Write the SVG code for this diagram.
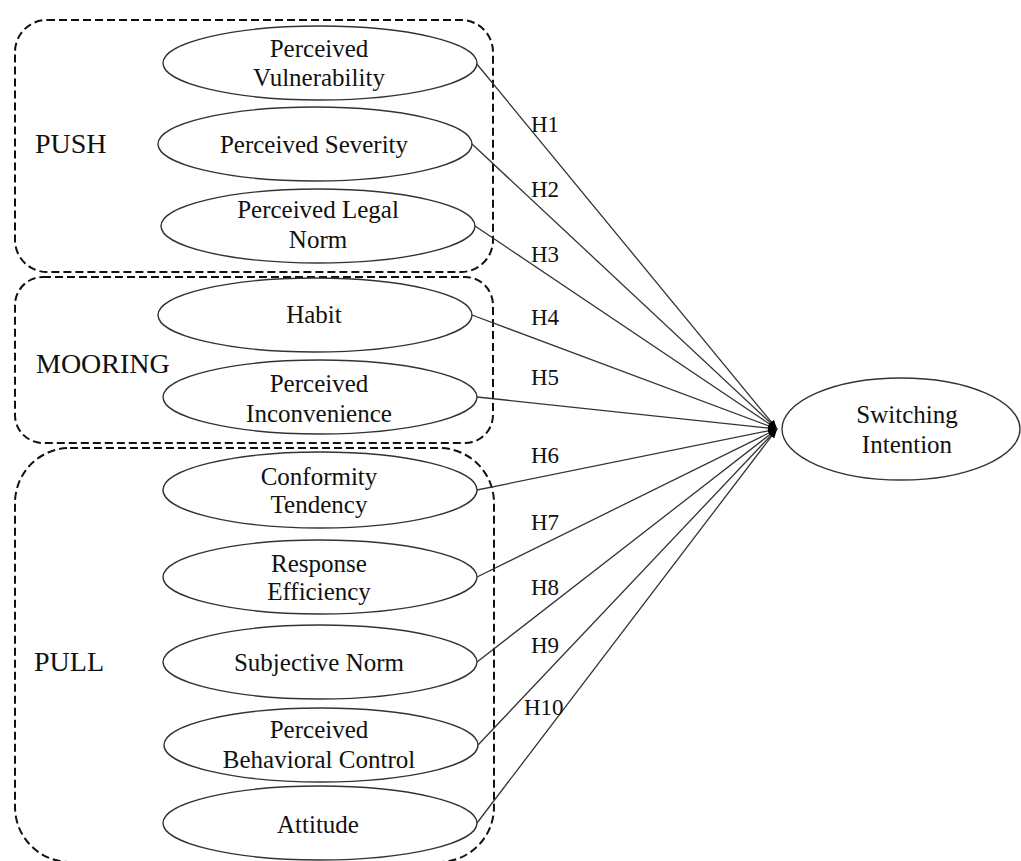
<svg xmlns="http://www.w3.org/2000/svg" width="1021" height="861" viewBox="0 0 1021 861">
<style>
.grp{fill:none;stroke:#111;stroke-width:2;stroke-dasharray:8 4}
.node{fill:#fff;stroke:#333;stroke-width:1.4}
.t{font-family:"Liberation Serif","Times New Roman",serif;font-size:25px;fill:#111;text-anchor:middle}
.g{font-family:"Liberation Serif","Times New Roman",serif;font-size:28px;fill:#111}
.h{font-family:"Liberation Serif","Times New Roman",serif;font-size:23px;fill:#111}
.e{fill:none;stroke:#333;stroke-width:1.3}
</style>
<defs>
<marker id="ah" markerUnits="userSpaceOnUse" markerWidth="10" markerHeight="8" refX="9" refY="3.5" orient="auto">
<path d="M0,0 L9,3.5 L0,7 z" fill="#000"/>
</marker>
</defs>
<g id="groups">
<rect id="push-box" class="grp" x="15" y="20" width="478" height="252" rx="32" ry="32"/>
<text class="g" x="35" y="153">PUSH</text>
<rect id="mooring-box" class="grp" x="15" y="277" width="478" height="166" rx="28" ry="28"/>
<text class="g" x="36" y="373">MOORING</text>
<rect id="pull-box" class="grp" x="15" y="448" width="479" height="414" rx="55" ry="55"/>
<text class="g" x="34" y="671">PULL</text>
</g>
<g id="connectors">
<line class="e" x1="476" y1="63" x2="777" y2="429" marker-end="url(#ah)"/>
<line class="e" x1="472" y1="144" x2="777" y2="429" marker-end="url(#ah)"/>
<line class="e" x1="475" y1="226" x2="777" y2="429" marker-end="url(#ah)"/>
<line class="e" x1="472" y1="315" x2="777" y2="429" marker-end="url(#ah)"/>
<line class="e" x1="477" y1="397" x2="777" y2="429" marker-end="url(#ah)"/>
<line class="e" x1="477" y1="490" x2="777" y2="429" marker-end="url(#ah)"/>
<line class="e" x1="477" y1="577" x2="777" y2="429" marker-end="url(#ah)"/>
<line class="e" x1="477" y1="662" x2="777" y2="429" marker-end="url(#ah)"/>
<line class="e" x1="478" y1="745" x2="777" y2="429" marker-end="url(#ah)"/>
<line class="e" x1="477" y1="823" x2="777" y2="429" marker-end="url(#ah)"/>
<text class="h" x="531" y="132">H1</text>
<text class="h" x="531" y="197">H2</text>
<text class="h" x="531" y="262">H3</text>
<text class="h" x="531" y="325">H4</text>
<text class="h" x="531" y="385">H5</text>
<text class="h" x="531" y="463">H6</text>
<text class="h" x="531" y="530">H7</text>
<text class="h" x="531" y="595">H8</text>
<text class="h" x="531" y="653">H9</text>
<text class="h" x="524" y="715">H10</text>
</g>
<g id="n-vulnerability">
<ellipse class="node" cx="320" cy="63" rx="157" ry="37"/>
<text class="t" x="319" y="57">Perceived</text>
<text class="t" x="319" y="86">Vulnerability</text>
</g>
<g id="n-severity">
<ellipse class="node" cx="315" cy="144" rx="157" ry="37"/>
<text class="t" x="314" y="153">Perceived Severity</text>
</g>
<g id="n-legal">
<ellipse class="node" cx="318" cy="226" rx="157" ry="37"/>
<text class="t" x="318" y="218">Perceived Legal</text>
<text class="t" x="318" y="248">Norm</text>
</g>
<g id="n-habit">
<ellipse class="node" cx="315" cy="315" rx="157" ry="37"/>
<text class="t" x="314" y="323">Habit</text>
</g>
<g id="n-inconvenience">
<ellipse class="node" cx="320" cy="397" rx="157" ry="37"/>
<text class="t" x="319" y="392">Perceived</text>
<text class="t" x="319" y="422">Inconvenience</text>
</g>
<g id="n-conformity">
<ellipse class="node" cx="320" cy="490" rx="157" ry="38"/>
<text class="t" x="319" y="485">Conformity</text>
<text class="t" x="319" y="513">Tendency</text>
</g>
<g id="n-response">
<ellipse class="node" cx="320" cy="577" rx="157" ry="37"/>
<text class="t" x="319" y="572">Response</text>
<text class="t" x="319" y="600">Efficiency</text>
</g>
<g id="n-subjective">
<ellipse class="node" cx="320" cy="662" rx="157" ry="37"/>
<text class="t" x="319" y="671">Subjective Norm</text>
</g>
<g id="n-pbc">
<ellipse class="node" cx="321" cy="745" rx="157" ry="37"/>
<text class="t" x="319" y="738">Perceived</text>
<text class="t" x="319" y="768">Behavioral Control</text>
</g>
<g id="n-attitude">
<ellipse class="node" cx="320" cy="823" rx="157" ry="37"/>
<text class="t" x="318" y="833">Attitude</text>
</g>
<g id="n-switching">
<ellipse class="node" cx="901" cy="429" rx="119" ry="51"/>
<text class="t" x="907" y="423">Switching</text>
<text class="t" x="907" y="453">Intention</text>
</g>
</svg>
